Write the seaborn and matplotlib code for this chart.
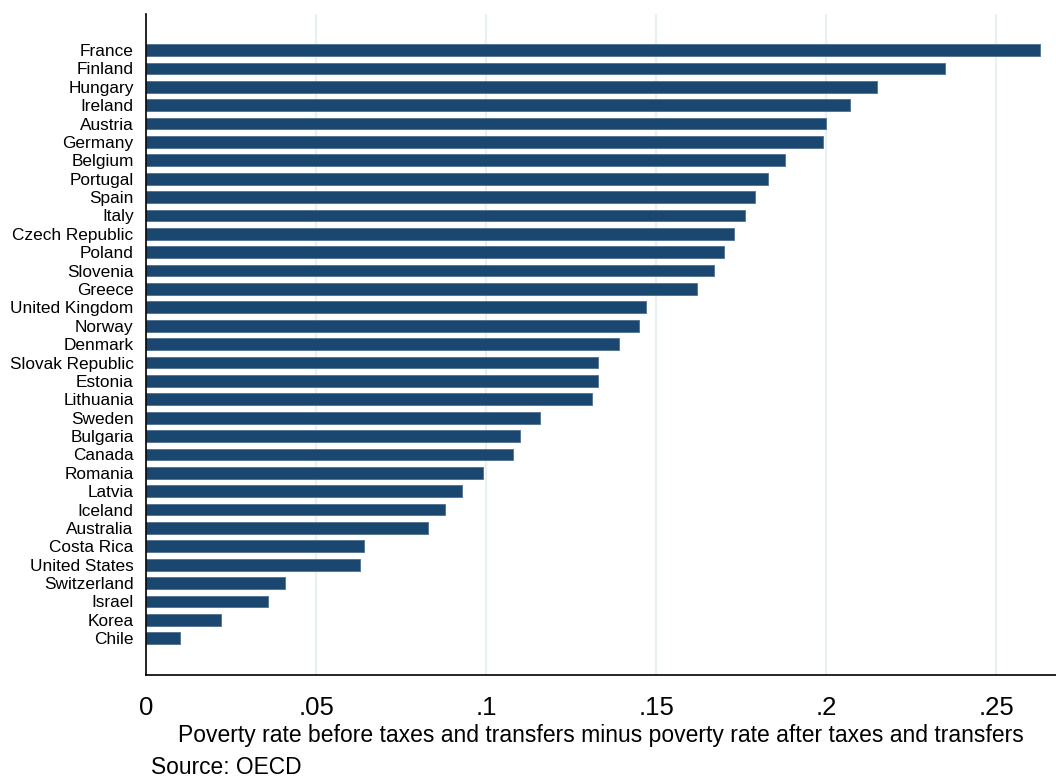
import pandas as pd
import matplotlib.pyplot as plt
import seaborn as sns

# =========================
# Data
# =========================
countries = ["France", "Finland", "Hungary", "Ireland", "Austria", "Germany",
             "Belgium", "Portugal", "Spain", "Italy", "Czech Republic", "Poland",
             "Slovenia", "Greece", "United Kingdom", "Norway", "Denmark",
             "Slovak Republic", "Estonia", "Lithuania", "Sweden", "Bulgaria",
             "Canada", "Romania", "Latvia", "Iceland", "Australia", "Costa Rica",
             "United States", "Switzerland", "Israel", "Korea", "Chile"]
values = [0.263, 0.235, 0.215, 0.207, 0.200, 0.199,
          0.188, 0.183, 0.179, 0.176, 0.173, 0.170,
          0.167, 0.162, 0.147, 0.145, 0.139,
          0.133, 0.133, 0.131, 0.116, 0.110,
          0.108, 0.099, 0.093, 0.088, 0.083, 0.064,
          0.063, 0.041, 0.036, 0.022, 0.010]
xticks = [0, 0.05, 0.1, 0.15, 0.2, 0.25]
xtick_labels = ["0", ".05", ".1", ".15", ".2", ".25"]

df = pd.DataFrame({"country": countries, "value": values})

sns.set_style("white")
plt.rcParams['font.family'] = ['Liberation Sans', 'DejaVu Sans']
plt.rcParams['text.color'] = 'black'
plt.rcParams['xtick.color'] = 'black'
plt.rcParams['ytick.color'] = 'black'
plt.rcParams['axes.labelcolor'] = 'black'

fig = plt.figure(figsize=(10.56, 7.78), dpi=100)
ax = fig.add_axes([0.1383, 0.1324, 0.8617, 0.8496])

# =========================
# Bars
# =========================
sns.barplot(data=df, x="value", y="country", orient="h", color="#1a476f",
            width=0.64, saturation=1, edgecolor="#4f7090", linewidth=0.6, ax=ax)

ax.set_xlim(0, 0.2676)
ax.set_ylim(34.0, -1.96)
ax.set_xticks(xticks)
ax.set_xticklabels(xtick_labels, fontsize=18.5)
ax.xaxis.grid(True, color="#e8f0f2", linewidth=1.6)
ax.set_axisbelow(True)
ax.tick_params(axis="x", direction="out", length=9, width=1, color="black", pad=6)
ax.tick_params(axis="y", length=0, labelsize=12.4, pad=9)

for s in ["top", "right"]:
    ax.spines[s].set_visible(False)
for s in ["left", "bottom"]:
    ax.spines[s].set_color("black")
    ax.spines[s].set_linewidth(1.2)

ax.set_ylabel("")
ax.set_xlabel("Poverty rate before taxes and transfers minus poverty rate after taxes and transfers",
              fontsize=16.5, labelpad=3)
fig.text(151 / 1056, 1 - 768 / 778, "Source: OECD", fontsize=16.4, va="center", ha="left")

plt.savefig("out.png", dpi=100)
plt.close()
